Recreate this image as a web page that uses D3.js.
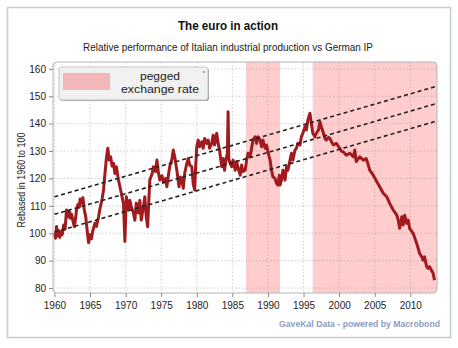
<!DOCTYPE html>
<html>
<head>
<meta charset="utf-8">
<script src="https://cdn.jsdelivr.net/npm/d3@7"></script>
<style>
  body { margin: 0; background: #fff; }
  svg { display: block; }
  text { font-family: "Liberation Sans", Arial, sans-serif; }
</style>
</head>
<body>
<script>
// Italian IP relative to German IP
const years = [
  1960.0, 1960.15, 1960.3, 1960.45, 1960.6, 1960.75, 1960.9, 1961.1, 1961.3, 1961.5,
  1961.7, 1961.9, 1962.1, 1962.2, 1962.4, 1962.6, 1962.8, 1963.0, 1963.1, 1963.3,
  1963.5, 1963.6, 1963.8, 1964.0, 1964.2, 1964.4, 1964.6, 1964.8, 1965.0, 1965.2,
  1965.4, 1965.7, 1965.9, 1966.2, 1966.4, 1966.7, 1966.9, 1967.1, 1967.3, 1967.5,
  1967.7, 1967.9, 1968.1, 1968.3, 1968.5, 1968.7, 1969.0, 1969.2, 1969.4, 1969.6,
  1969.7, 1969.9, 1970.1, 1970.4, 1970.6, 1970.8, 1971.1, 1971.3, 1971.5, 1971.8,
  1972.0, 1972.2, 1972.5, 1972.7, 1972.9, 1973.1, 1973.3, 1973.4, 1973.7, 1973.9,
  1974.2, 1974.4, 1974.6, 1974.8, 1975.1, 1975.3, 1975.6, 1975.8, 1976.0, 1976.2,
  1976.5, 1976.7, 1976.9, 1977.2, 1977.5, 1977.7, 1977.9, 1978.1, 1978.3, 1978.6,
  1978.8, 1979.0, 1979.3, 1979.5, 1979.7, 1979.8, 1980.0, 1980.2, 1980.4, 1980.7,
  1980.9, 1981.1, 1981.4, 1981.6, 1981.8, 1982.1, 1982.3, 1982.5, 1982.8, 1983.0,
  1983.2, 1983.5, 1983.7, 1983.9, 1984.1, 1984.3, 1984.4, 1984.5, 1984.7, 1984.9,
  1985.1, 1985.4, 1985.6, 1985.8, 1986.1, 1986.3, 1986.5, 1986.8, 1987.0, 1987.2,
  1987.5, 1987.7, 1987.9, 1988.2, 1988.4, 1988.6, 1988.9, 1989.1, 1989.3, 1989.6,
  1989.8, 1990.0, 1990.3, 1990.5, 1990.7, 1991.0, 1991.2, 1991.4, 1991.6, 1991.7,
  1991.9, 1992.1, 1992.4, 1992.6, 1992.8, 1993.1, 1993.3, 1993.5, 1993.8, 1994.0,
  1994.2, 1994.5, 1994.7, 1994.9, 1995.2, 1995.4, 1995.6, 1995.9, 1996.1, 1996.3,
  1996.6, 1996.8, 1997.1, 1997.3, 1997.5, 1997.8, 1998.0, 1998.2, 1998.5, 1998.7,
  1999.0, 1999.2, 1999.6, 2000.1, 2000.3, 2000.6, 2001.0, 2001.5, 2002.0, 2002.2,
  2002.4, 2002.9, 2003.4, 2003.8, 2004.1, 2004.3, 2004.8, 2005.3, 2005.7, 2006.2,
  2006.7, 2007.1, 2007.6, 2008.1, 2008.3, 2008.5, 2008.8, 2009.0, 2009.2, 2009.5,
  2009.7, 2009.9, 2010.4, 2010.9, 2011.3, 2011.6, 2011.8, 2012.0, 2012.3, 2012.5,
  2012.7, 2013.2, 2013.4
];
const values = [
  100, 98.2, 102.5, 99, 101, 98.5, 100.5, 99.5, 103, 101.5,
  108.5, 106, 108, 105.5, 107, 104.5, 102.4, 106, 108.5, 110.5,
  109.5, 112.5, 111, 113, 108.5, 106, 101, 96.5, 99.5, 98,
  101, 103.7, 102.5, 106, 109, 112.5, 115.8, 121.8, 127.3, 131,
  126.7, 127.9, 124.5, 125.5, 121.8, 124.3, 119.4, 117, 114.6, 112,
  110.9, 97, 113.3, 108.5, 112, 109.7, 107.4, 104.8, 111, 107.4,
  112, 104.8, 109.7, 113.3, 106, 102.4, 114, 119.4, 121.5, 124.3,
  122.5, 126.7, 122.4, 119.4, 121, 118.8, 120, 117, 121, 124.3,
  127, 130.4, 127.9, 123, 117, 120.5, 119.4, 116.4, 121.8, 125.5,
  127.3, 124.9, 124.3, 118, 115.8, 122, 131.6, 134, 131.6, 133.4,
  131, 134.6, 132.8, 134, 131, 132.8, 135.8, 132.2, 136.5, 132.8,
  130.4, 124.3, 127.3, 123, 127, 129.2, 144.3, 127, 125.5, 124.3,
  126.7, 123, 126.2, 123.8, 121.2, 124.9, 122.5, 123, 126.7, 129.2,
  127.9, 131, 134, 135.2, 132.8, 135.2, 134, 131.6, 134, 131,
  132.2, 129.7, 126.7, 123, 120.6, 120, 118.2, 117.6, 121.2, 117.6,
  119.5, 123, 119.4, 124.3, 123, 126.7, 129.2, 126.7, 130.4, 131,
  132.8, 132.2, 135.2, 136.5, 138.9, 137.7, 141.3, 143.8, 140.1, 136.5,
  135.2, 136.5, 137.7, 140.7, 138.9, 136.5, 134.6, 134, 135, 134.6,
  133, 132.2, 132.8, 131, 130, 129.7, 128.5, 129.2, 127.9, 130.4,
  126.2, 127.9, 126.7, 127.3, 124.9, 123, 121.2, 118.8, 117, 114.6,
  113.3, 110.9, 108.5, 106.6, 104.8, 101.8, 106, 103, 106.6, 103.6,
  104.8, 101.8, 100, 96.3, 92.7, 91.4, 90.2, 91.4, 87.8, 87.2,
  87.8, 85.4, 82.9
];

// pegged exchange rate periods (start, end)
const pegStart = [1986.9, 1996.3];
const pegEnd = [1991.7, 2013.75];

// dashed trend channel
const trendYears = [1960, 2013.75];
const trendUpper = [113.3, 153.7];
const trendMid = [106.9, 147.4];
const trendLower = [100.4, 141.0];

const yTicks = [80, 90, 100, 110, 120, 130, 140, 150, 160];
const xTicks = [1960, 1965, 1970, 1975, 1980, 1985, 1990, 1995, 2000, 2005, 2010];

const width = 458;
const height = 348;
const plot = { left: 53, right: 437, top: 62, bottom: 293 };

const svg = d3.select("body")
    .append("svg")
    .attr("width", width)
    .attr("height", height);

// outer frame
svg.append("rect")
    .attr("x", 7.5).attr("y", 7.5)
    .attr("width", 443).attr("height", 330)
    .attr("fill", "#fff")
    .attr("stroke", "#c6ccd3")
    .attr("stroke-width", 1.5);

const x = d3.scaleLinear().domain([1959.8, 2013.75]).range([plot.left, plot.right]);
const y = d3.scaleLinear().domain([78.2, 162.5]).range([plot.bottom, plot.top]);

// titles
svg.append("text")
    .attr("x", 228).attr("y", 29.5)
    .attr("text-anchor", "middle")
    .attr("font-size", 13)
    .attr("font-weight", "bold")
    .attr("fill", "#111")
    .attr("textLength", 100)
    .attr("lengthAdjust", "spacingAndGlyphs")
    .text("The euro in action");

svg.append("text")
    .attr("x", 228).attr("y", 51)
    .attr("text-anchor", "middle")
    .attr("font-size", 11)
    .attr("fill", "#222")
    .attr("textLength", 290)
    .attr("lengthAdjust", "spacingAndGlyphs")
    .text("Relative performance of Italian industrial production vs German IP");

// clip for plot contents
svg.append("clipPath").attr("id", "plotclip")
  .append("rect")
    .attr("x", plot.left).attr("y", plot.top)
    .attr("width", plot.right - plot.left).attr("height", plot.bottom - plot.top)
    .attr("rx", 4);

const g = svg.append("g").attr("clip-path", "url(#plotclip)");

// shaded peg periods
g.selectAll("rect.peg")
    .data(pegStart)
    .enter()
    .append("rect")
    .attr("class", "peg")
    .attr("x", d => x(d))
    .attr("width", (d, i) => x(pegEnd[i]) - x(d))
    .attr("y", plot.top)
    .attr("height", plot.bottom - plot.top)
    .attr("fill", "#ffcdcd");

// gridlines
g.selectAll("line.hgrid")
    .data(yTicks)
    .enter()
    .append("line")
    .attr("x1", plot.left).attr("x2", plot.right)
    .attr("y1", d => y(d)).attr("y2", d => y(d))
    .attr("stroke", "rgba(120,120,120,0.35)")
    .attr("stroke-dasharray", "1.5,2");

g.selectAll("line.vgrid")
    .data(xTicks)
    .enter()
    .append("line")
    .attr("y1", plot.top).attr("y2", plot.bottom)
    .attr("x1", d => x(d)).attr("x2", d => x(d))
    .attr("stroke", "rgba(120,120,120,0.35)")
    .attr("stroke-dasharray", "1.5,2");

// the series
const series = years.map((yr, i) => [yr, values[i]]);
const line = d3.line().x(d => x(d[0])).y(d => y(d[1]));

g.append("path")
    .datum(series)
    .attr("d", line)
    .attr("fill", "none")
    .attr("stroke", "#a01a1e")
    .attr("stroke-width", 3)
    .attr("stroke-linejoin", "round");

// trend channel
[trendUpper, trendMid, trendLower].forEach(function (t) {
    g.append("path")
        .datum(trendYears.map((yr, i) => [yr, t[i]]))
        .attr("d", line)
        .attr("fill", "none")
        .attr("stroke", "#222")
        .attr("stroke-width", 1.6)
        .attr("stroke-dasharray", "4,3");
});

// plot frame
svg.append("rect")
    .attr("x", plot.left).attr("y", plot.top)
    .attr("width", plot.right - plot.left).attr("height", plot.bottom - plot.top)
    .attr("rx", 4)
    .attr("fill", "none")
    .attr("stroke", "#b5b5b5");

// axes
const yAxis = svg.append("g")
    .attr("transform", `translate(${plot.left},0)`)
    .call(d3.axisLeft(y).tickValues(yTicks).tickSize(4).tickPadding(3));
const xAxis = svg.append("g")
    .attr("transform", `translate(0,${plot.bottom})`)
    .call(d3.axisBottom(x).tickValues(xTicks).tickFormat(d3.format("d")).tickSize(4).tickPadding(5));

[yAxis, xAxis].forEach(function (a) {
    a.select(".domain").remove();
    a.selectAll(".tick line").attr("stroke", "#888");
    a.selectAll(".tick text")
        .attr("font-family", "'Liberation Sans', Arial, sans-serif")
        .attr("font-size", 10)
        .attr("fill", "#222");
});

// y axis title
svg.append("text")
    .attr("transform", "translate(25,180) rotate(-90)")
    .attr("text-anchor", "middle")
    .attr("font-size", 10.5)
    .attr("fill", "#222")
    .attr("textLength", 95)
    .attr("lengthAdjust", "spacingAndGlyphs")
    .text("Rebased in 1960 to 100");

// legend
const legend = svg.append("g");
legend.append("rect")
    .attr("x", 60).attr("y", 68)
    .attr("width", 149).attr("height", 33)
    .attr("rx", 3)
    .attr("fill", "#9a9a9a");
legend.append("rect")
    .attr("x", 59).attr("y", 67)
    .attr("width", 149).attr("height", 33)
    .attr("rx", 3)
    .attr("fill", "#f1f1f1")
    .attr("stroke", "#c4c4c4");
legend.append("rect")
    .attr("x", 63).attr("y", 73)
    .attr("width", 47).attr("height", 17)
    .attr("fill", "#f3b7b9");
legend.append("text")
    .attr("x", 160).attr("y", 80)
    .attr("text-anchor", "middle")
    .attr("font-size", 11)
    .attr("fill", "#222")
    .attr("textLength", 40)
    .attr("lengthAdjust", "spacingAndGlyphs")
    .text("pegged");
legend.append("text")
    .attr("x", 160).attr("y", 92.5)
    .attr("text-anchor", "middle")
    .attr("font-size", 11)
    .attr("fill", "#222")
    .attr("textLength", 78)
    .attr("lengthAdjust", "spacingAndGlyphs")
    .text("exchange rate");
legend.append("circle")
    .attr("cx", 204).attr("cy", 72).attr("r", 0.8)
    .attr("fill", "#333");

// source
svg.append("text")
    .attr("x", 440).attr("y", 327)
    .attr("text-anchor", "end")
    .attr("font-size", 9.5)
    .attr("font-weight", "bold")
    .attr("fill", "#8d9cc0")
    .attr("textLength", 161)
    .attr("lengthAdjust", "spacingAndGlyphs")
    .text("GaveKal Data - powered by Macrobond");
</script>
</body>
</html>
